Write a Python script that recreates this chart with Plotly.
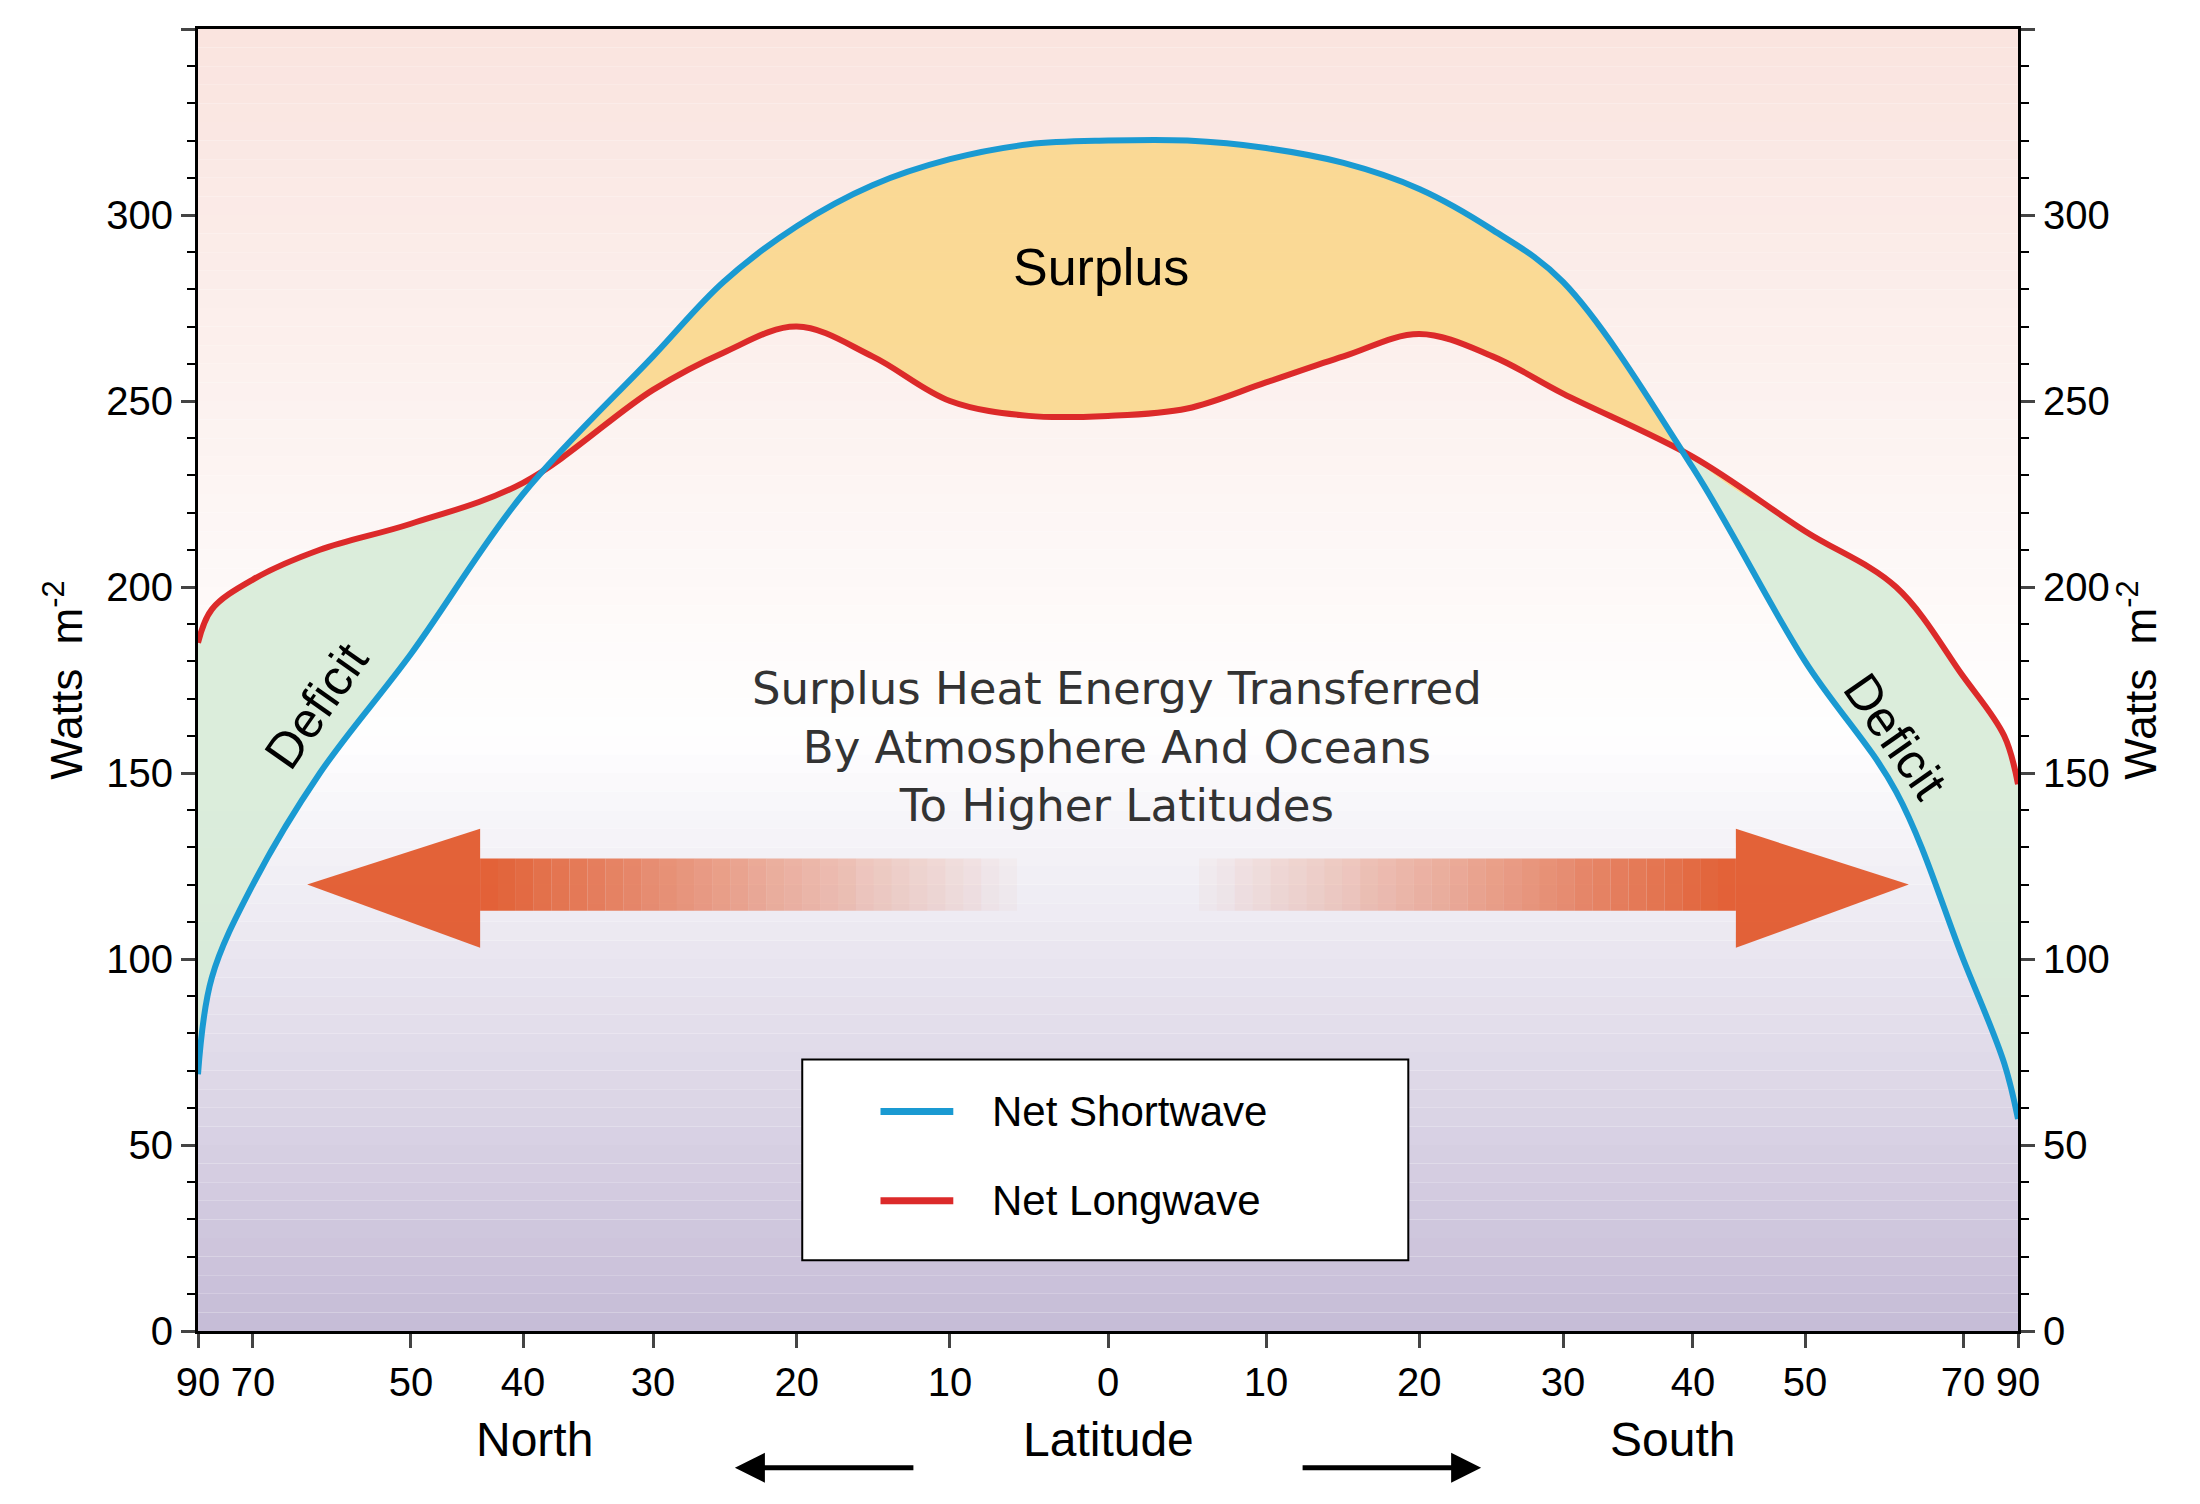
import numpy as np
import plotly.graph_objects as go

# latitude (negative = North, positive = South), degrees
lat = [-90, -80, -70, -60, -50, -40, -30, -25, -20, -15, -10, -5, 0,
       5, 10, 15, 20, 25, 30, 40, 50, 60, 70, 80, 90]
shortwave = [69, 95, 120, 150, 182, 225, 262, 282, 297, 308, 315, 319, 320,
             320, 318, 314, 307, 296, 282, 232, 180, 145, 100, 72, 57]
longwave = [185, 194, 202, 210, 217, 228, 253, 263, 270, 262, 250, 246, 246,
            248, 255, 262, 268, 262, 252, 235, 215, 200, 176, 160, 147]
tick_lat = [-90, -70, -50, -40, -30, -20, -10, 0, 10, 20, 30, 40, 50, 70, 90]
tick_text = [str(abs(t)) for t in tick_lat]

x = np.sin(np.radians(lat))
sw = np.array(shortwave)
lw = np.array(longwave)
F = "Liberation Sans"

fig = go.Figure()
# surplus fill (blue above red)
fig.add_trace(go.Scatter(x=x, y=lw, mode='lines', line=dict(width=0, shape='spline'), hoverinfo='skip'))
fig.add_trace(go.Scatter(x=x, y=np.maximum(sw, lw), mode='lines', fill='tonexty',
                         fillcolor='rgba(250,215,140,0.9)', line=dict(width=0, shape='spline'), hoverinfo='skip'))
# deficit fill (red above blue)
fig.add_trace(go.Scatter(x=x, y=sw, mode='lines', line=dict(width=0, shape='spline'), hoverinfo='skip'))
fig.add_trace(go.Scatter(x=x, y=np.maximum(sw, lw), mode='lines', fill='tonexty',
                         fillcolor='rgba(215,235,215,0.9)', line=dict(width=0, shape='spline'), hoverinfo='skip'))
fig.add_trace(go.Scatter(x=x, y=lw, mode='lines', name='Net Longwave',
                         line=dict(color='#dc2a2a', width=6, shape='spline')))
fig.add_trace(go.Scatter(x=x, y=sw, mode='lines', name='Net Shortwave',
                         line=dict(color='#1a9ad2', width=6, shape='spline')))
fig.add_trace(go.Scatter(x=[0], y=[0], yaxis='y2', mode='markers', marker=dict(opacity=0),
                         hoverinfo='skip'))

shapes = []
# background gradient
n = 70
for i in range(n):
    f = (i + 0.5) / n  # 0 bottom, 1 top
    v = f * 350
    if v > 160:
        t = (v - 160) / 190
        c = (255 - 5 * t, 255 - 27 * t, 255 - 32 * t)
    else:
        t = (160 - v) / 160
        c = (255 - 57 * t, 255 - 67 * t, 255 - 40 * t)
    shapes.append(dict(type='rect', xref='paper', yref='paper', x0=0, x1=1, y0=i / n, y1=(i + 1) / n,
                       fillcolor='rgb(%d,%d,%d)' % c, line=dict(width=0), layer='below'))

# gradient arrows
arrow_col = (225, 90, 45)
segs = 30
for side in (-1, 1):
    inner, outer = 0.1, 0.69
    for k in range(segs):
        a = inner + (outer - inner) * k / segs
        b = inner + (outer - inner) * (k + 1) / segs
        op = (k + 1) / segs
        x0, x1 = sorted([side * a, side * b])
        shapes.append(dict(type='rect', x0=x0, x1=x1, y0=113, y1=127, line=dict(width=0),
                           fillcolor='rgba(%d,%d,%d,%.2f)' % (arrow_col + (op * 0.95,))))
    tip = side * 0.88
    base = side * 0.69
    shapes.append(dict(type='path', path='M %f,103 L %f,120 L %f,135 Z' % (base, tip, base),
                       fillcolor='rgba(225,90,45,0.95)', line=dict(width=0)))

# legend box
shapes.append(dict(type='rect', x0=-0.336, x1=0.33, y0=19, y1=73, line=dict(color='black', width=2),
                   fillcolor='white'))
shapes.append(dict(type='line', x0=-0.25, x1=-0.17, y0=59, y1=59, line=dict(color='#1a9ad2', width=7)))
shapes.append(dict(type='line', x0=-0.25, x1=-0.17, y0=35, y1=35, line=dict(color='#dc2a2a', width=7)))

ann = [
    dict(x=-0.008, y=286, text='Surplus', font=dict(size=52, family=F, color='black')),
    dict(x=-0.87, y=168, text='Deficit', textangle=-55, font=dict(size=50, family=F, color='black')),
    dict(x=0.865, y=160, text='Deficit', textangle=55, font=dict(size=50, family=F, color='black')),
    dict(x=0.01, y=157, text='Surplus Heat Energy Transferred<br>By Atmosphere And Oceans<br>To Higher Latitudes',
         font=dict(size=45, family='DejaVu Sans', color='#333'), yanchor='middle'),
    dict(x=-0.13, y=59, text='Net Shortwave', xanchor='left', font=dict(size=42, family=F, color='black')),
    dict(x=-0.13, y=35, text='Net Longwave', xanchor='left', font=dict(size=42, family=F, color='black')),
    dict(x=0.0, y=-0.105, yref='paper', text='Latitude', font=dict(size=48, family=F, color='black')),
    dict(x=-0.63, y=-0.105, yref='paper', text='North', font=dict(size=48, family=F, color='black')),
    dict(x=0.62, y=-0.105, yref='paper', text='South', font=dict(size=48, family=F, color='black')),
    dict(x=-0.41, y=-0.105, yref='paper', ax=180, ay=0, text='',
         showarrow=True, arrowhead=2, arrowsize=1.2, arrowwidth=5, arrowcolor='black'),
    dict(x=0.41, y=-0.105, yref='paper', ax=-180, ay=0, text='',
         showarrow=True, arrowhead=2, arrowsize=1.2, arrowwidth=5, arrowcolor='black'),
]
for a in ann:
    a.setdefault('showarrow', False)

yax = dict(range=[0, 350], tickvals=list(range(0, 351, 50)), ticks='outside', ticklen=14, tickwidth=3,
           showgrid=False, zeroline=False, showline=True, linecolor='black', linewidth=3,
           tickfont=dict(size=40, family=F, color='black'),
           minor=dict(dtick=10, ticks='outside', ticklen=8, tickwidth=2, tickcolor='black'),
           title=dict(text='Watts  m<sup>-2</sup>', font=dict(size=44, family=F, color='black'), standoff=10))

fig.update_layout(
    width=2200, height=1504, showlegend=False,
    margin=dict(l=190, r=190, t=21, b=181),
    plot_bgcolor='white', paper_bgcolor='white',
    xaxis=dict(range=[-1, 1], tickvals=np.sin(np.radians(tick_lat)), ticktext=tick_text,
               ticks='outside', ticklen=14, tickwidth=3, showgrid=False, zeroline=False,
               showline=True, linecolor='black', linewidth=3, mirror=True,
               tickfont=dict(size=40, family=F, color='black')),
    yaxis=yax,
    yaxis2=dict(yax, overlaying='y', side='right'),
    shapes=shapes, annotations=ann,
)
fig.write_html("out.html")
